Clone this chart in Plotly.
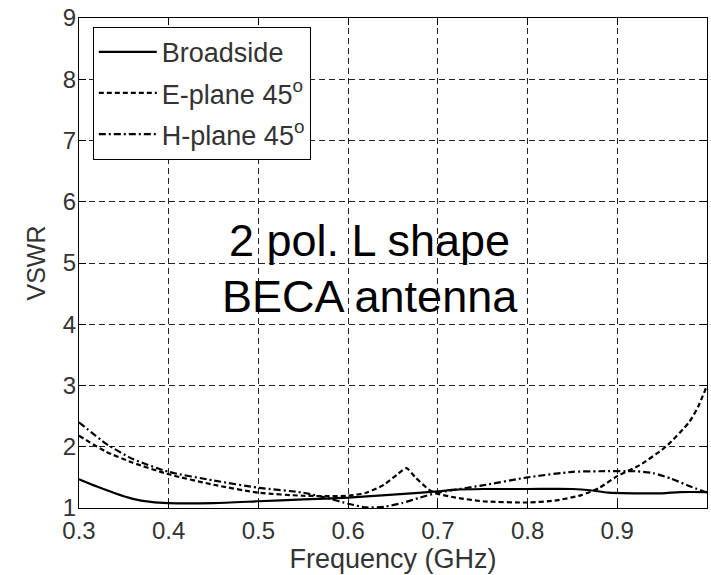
import plotly.graph_objects as go

# Frequency (GHz) sample points for each curve
freq_broadside = [0.30, 0.32, 0.34, 0.36, 0.38, 0.40, 0.45, 0.50, 0.55, 0.60, 0.65, 0.70,
                  0.72, 0.75, 0.80, 0.85, 0.87, 0.89, 0.92, 0.95, 0.97, 1.00]
vswr_broadside = [1.47, 1.35, 1.24, 1.15, 1.10, 1.08, 1.08, 1.11, 1.14, 1.17, 1.22, 1.27,
                  1.30, 1.31, 1.31, 1.31, 1.29, 1.25, 1.24, 1.24, 1.26, 1.26]

freq_eplane = [0.30, 0.33, 0.36, 0.40, 0.45, 0.50, 0.55, 0.60, 0.62, 0.64, 0.655, 0.665,
               0.675, 0.69, 0.70, 0.72, 0.75, 0.80, 0.83, 0.86, 0.88, 0.90, 0.925, 0.954,
               0.98, 0.99, 1.00]
vswr_eplane = [2.18, 1.92, 1.74, 1.55, 1.38, 1.25, 1.20, 1.20, 1.25, 1.38, 1.55, 1.65,
               1.50, 1.30, 1.23, 1.17, 1.11, 1.09, 1.12, 1.21, 1.33, 1.52, 1.70, 2.00,
               2.40, 2.65, 3.00]

freq_hplane = [0.30, 0.33, 0.36, 0.40, 0.45, 0.50, 0.55, 0.58, 0.60, 0.62, 0.64, 0.66,
               0.68, 0.70, 0.75, 0.80, 0.85, 0.88, 0.92, 0.94, 0.96, 0.98, 1.00]
vswr_hplane = [2.40, 2.05, 1.80, 1.59, 1.45, 1.33, 1.25, 1.15, 1.07, 1.01, 1.02, 1.08,
               1.17, 1.25, 1.37, 1.50, 1.59, 1.60, 1.60, 1.57, 1.48, 1.36, 1.25]

x_ticks = [0.3, 0.4, 0.5, 0.6, 0.7, 0.8, 0.9]
x_ticklabels = ["0.3", "0.4", "0.5", "0.6", "0.7", "0.8", "0.9"]
y_ticks = [1, 2, 3, 4, 5, 6, 7, 8, 9]

series_names = ["Broadside", "E-plane 45<sup>o</sup>", "H-plane 45<sup>o</sup>"]

FONT = "Liberation Sans, Arial, sans-serif"
TXT = "#333"

fig = go.Figure()
fig.add_trace(go.Scatter(x=freq_broadside, y=vswr_broadside, mode="lines", name=series_names[0],
                         legendgroup="a", line=dict(color="black", width=2.2, shape="spline", smoothing=0.6)))
fig.add_trace(go.Scatter(x=freq_eplane, y=vswr_eplane, mode="lines", name=series_names[1],
                         legendgroup="b", line=dict(color="black", width=2.2, dash="5px,3px", shape="spline", smoothing=0.6)))
fig.add_trace(go.Scatter(x=freq_hplane, y=vswr_hplane, mode="lines", name=series_names[2],
                         legendgroup="c", line=dict(color="black", width=2.2, dash="7px,3px,2px,3px", shape="spline", smoothing=0.6)))

axis_common = dict(
    showgrid=True, gridcolor="#222", gridwidth=1, griddash="6px,4px",
    showline=True, linecolor="black", linewidth=1, mirror="ticks",
    ticks="inside", ticklen=7, tickcolor="black", zeroline=False,
    tickfont=dict(family=FONT, size=24, color=TXT),
)

fig.update_layout(
    width=711, height=575,
    margin=dict(l=79, r=4, t=18, b=67),
    paper_bgcolor="white", plot_bgcolor="white",
    font=dict(family=FONT, color=TXT),
    xaxis=dict(range=[0.3, 1.0], tickvals=x_ticks, ticktext=x_ticklabels,
               title=dict(text="Frequency (GHz)", font=dict(family=FONT, size=27, color=TXT), standoff=3),
               ticklabelstandoff=1,
               **axis_common),
    yaxis=dict(range=[1, 9], tickvals=y_ticks,
               title=dict(text="VSWR", font=dict(family=FONT, size=25, color=TXT), standoff=10),
               ticklabelstandoff=-3,
               **axis_common),
    legend=dict(x=0.022, y=0.982, xanchor="left", yanchor="top",
                bgcolor="white", bordercolor="black", borderwidth=1,
                font=dict(family=FONT, size=27, color=TXT),
                tracegroupgap=3, traceorder="grouped", itemwidth=58),
    showlegend=True,
)

fig.add_annotation(x=0.624, y=5.36, xref="x", yref="y", text="2 pol. L shape", showarrow=False,
                   font=dict(family=FONT, size=45, color="black"), xanchor="center", yanchor="middle")
fig.add_annotation(x=0.624, y=4.45, xref="x", yref="y", text="BECA antenna", showarrow=False,
                   font=dict(family=FONT, size=45, color="black"), xanchor="center", yanchor="middle")

fig.write_html("out.html")
